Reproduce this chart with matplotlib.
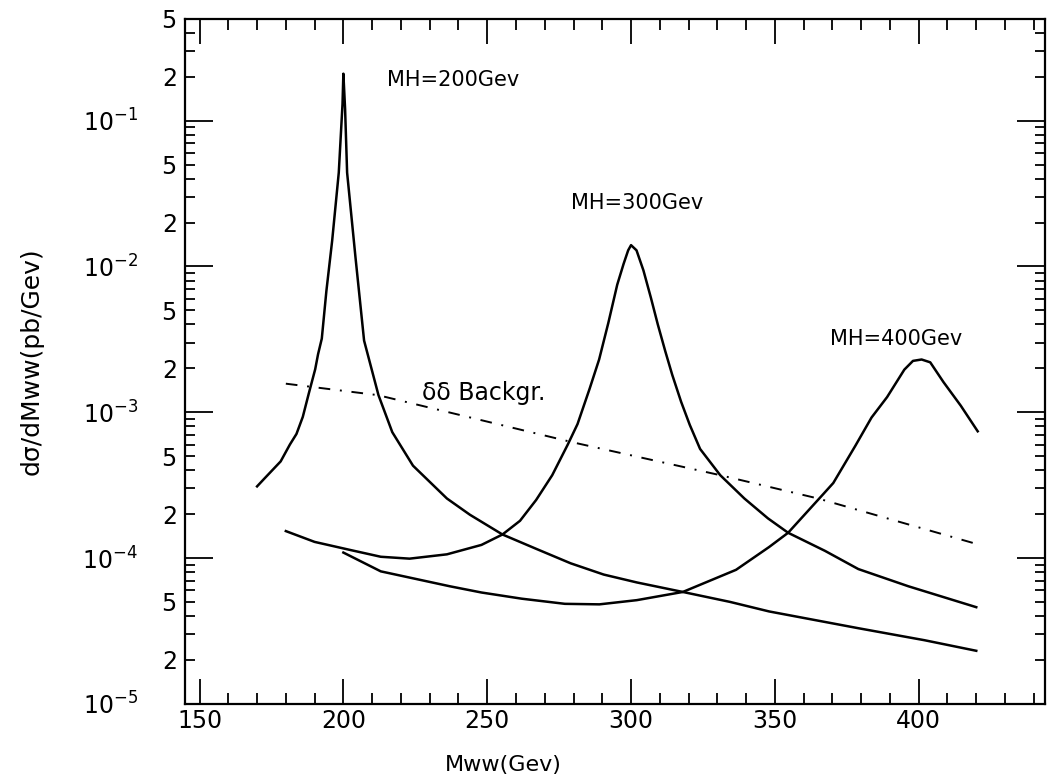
import numpy as np
import matplotlib
matplotlib.use("Agg")
import matplotlib.pyplot as plt
from matplotlib.ticker import MultipleLocator, LogLocator, FuncFormatter, NullFormatter

# Curves (Mww in GeV, dsigma/dMww in pb/GeV)
mh200_x = [170, 172.5, 178.2, 181.4, 183.7, 185.9, 188, 190.2, 191.2, 192.5, 194.1, 196.1,
           198.4, 199.7, 200, 200.6, 201.3, 204.2, 207.2, 212.2, 217, 224.2, 236, 244,
           255.3, 267.3, 279, 290.5, 302, 318, 334.4, 348, 379, 402, 420]
mh200_y = [3.1e-4, 3.5e-4, 4.6e-4, 6.0e-4, 7.1e-4, 9.3e-4, 1.35e-3, 1.97e-3, 2.5e-3, 3.2e-3,
           6.8e-3, 1.5e-2, 4.4e-2, 0.13, 0.21, 0.12, 4.4e-2, 1.16e-2, 3.1e-3, 1.31e-3,
           7.3e-4, 4.3e-4, 2.56e-4, 1.98e-4, 1.45e-4, 1.15e-4, 9.2e-5, 7.7e-5, 6.8e-5,
           5.85e-5, 5.0e-5, 4.3e-5, 3.3e-5, 2.73e-5, 2.31e-5]

mh300_x = [180, 190, 202, 213, 223, 236, 248, 255.3, 261.4, 267, 272.6, 278, 281.4, 285.6,
           288.9, 292.1, 295.2, 297.4, 299, 300, 301.9, 304.3, 306.9, 309.3, 311.9, 314.3,
           317.4, 320.4, 324, 331, 339.4, 347.6, 354.6, 367.4, 379, 396.4, 420]
mh300_y = [1.53e-4, 1.29e-4, 1.14e-4, 1.02e-4, 9.9e-5, 1.06e-4, 1.23e-4, 1.45e-4, 1.8e-4,
           2.5e-4, 3.7e-4, 6.0e-4, 8.3e-4, 1.45e-3, 2.3e-3, 4.1e-3, 7.5e-3, 1.04e-2,
           1.29e-2, 1.4e-2, 1.29e-2, 9.4e-3, 6.1e-3, 4.0e-3, 2.62e-3, 1.81e-3, 1.18e-3,
           8.2e-4, 5.6e-4, 3.7e-4, 2.56e-4, 1.87e-4, 1.49e-4, 1.12e-4, 8.4e-5, 6.4e-5, 4.6e-5]

mh400_x = [200, 213, 225, 237, 248, 262, 277, 289, 302, 318, 336.5, 348, 354.6, 367, 370.3,
           378, 383.6, 389, 395, 398, 401, 404, 408.6, 414.6, 420.5]
mh400_y = [1.09e-4, 8.1e-5, 7.2e-5, 6.4e-5, 5.8e-5, 5.26e-5, 4.85e-5, 4.81e-5, 5.14e-5,
           5.85e-5, 8.3e-5, 1.19e-4, 1.49e-4, 2.77e-4, 3.27e-4, 5.9e-4, 9.2e-4, 1.27e-3,
           1.96e-3, 2.25e-3, 2.3e-3, 2.2e-3, 1.61e-3, 1.11e-3, 7.4e-4]

bkg_x = [180, 212, 280, 331, 365, 420]
bkg_y = [1.57e-3, 1.31e-3, 6.2e-4, 3.7e-4, 2.56e-4, 1.25e-4]

labels = ["MH=200Gev", "MH=300Gev", "MH=400Gev", "\u03b4\u03b4 Backgr."]
label_pos = [(215, 0.19), (279, 0.0274), (369, 3.2e-3), (227.5, 1.35e-3)]
label_size = [15, 15, 15, 17]

fig = plt.figure(figsize=(10.58, 7.82), dpi=100)
ax = fig.add_axes([0.175, 0.100, 0.813, 0.876])

lw = 1.8
for xs, ys in [(mh200_x, mh200_y), (mh300_x, mh300_y), (mh400_x, mh400_y)]:
    ax.plot(xs, ys, color="black", lw=lw, solid_joinstyle="round")
ax.plot(bkg_x, bkg_y, color="black", lw=1.4, linestyle=(0, (6, 5, 1, 5)))

for txt, (x, y), fs in zip(labels, label_pos, label_size):
    ax.text(x, y, txt, fontsize=fs, ha="left", va="center")

ax.set_yscale("log")
ax.set_xlim(145, 444)
ax.set_ylim(1e-5, 5e-1)

# x ticks
ax.xaxis.set_major_locator(MultipleLocator(50))
ax.xaxis.set_minor_locator(MultipleLocator(10))

# y ticks: decades labelled 10^k, and 2 / 5 labelled in between
ax.yaxis.set_major_locator(LogLocator(base=10, numticks=20))
ax.yaxis.set_minor_locator(LogLocator(base=10, subs=np.arange(2, 10), numticks=20))

def major_fmt(v, pos):
    return r"$10^{%d}$" % int(round(np.log10(v)))

def minor_fmt(v, pos):
    m = v / 10 ** np.floor(np.log10(v) + 1e-9)
    m = int(round(m))
    return str(m) if m in (2, 5) else ""

ax.yaxis.set_major_formatter(FuncFormatter(major_fmt))
ax.yaxis.set_minor_formatter(FuncFormatter(minor_fmt))
ax.xaxis.set_minor_formatter(NullFormatter())

ax.tick_params(which="both", direction="in", top=True, right=True, width=1.3)
ax.tick_params(axis="x", which="major", length=18, labelsize=17, pad=4)
ax.tick_params(axis="x", which="minor", length=8)
ax.tick_params(axis="y", which="major", length=20, labelsize=17, pad=34)
ax.tick_params(axis="y", which="minor", length=7, labelsize=17, pad=6)

for s in ax.spines.values():
    s.set_linewidth(1.6)

ax.set_xlabel("Mww(Gev)", fontsize=16)
ax.set_ylabel("d\u03c3/dMww(pb/Gev)", fontsize=18)
ax.xaxis.set_label_coords(0.37, -0.075)
ax.yaxis.set_label_coords(-0.165, 0.5)

fig.savefig("out.png", dpi=100)
